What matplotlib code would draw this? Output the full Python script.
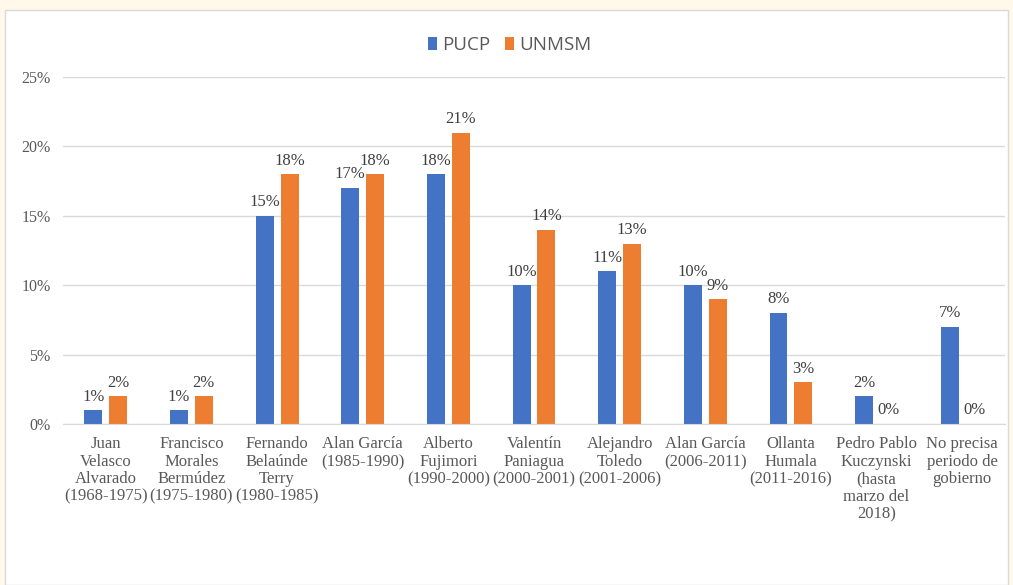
import matplotlib.pyplot as plt
import numpy as np
from matplotlib.patches import Rectangle

categories = [
    'Juan\nVelasco\nAlvarado\n(1968-1975)',
    'Francisco\nMorales\nBermúdez\n(1975-1980)',
    'Fernando\nBelaúnde\nTerry\n(1980-1985)',
    'Alan García\n(1985-1990)',
    'Alberto\nFujimori\n(1990-2000)',
    'Valentín\nPaniagua\n(2000-2001)',
    'Alejandro\nToledo\n(2001-2006)',
    'Alan García\n(2006-2011)',
    'Ollanta\nHumala\n(2011-2016)',
    'Pedro Pablo\nKuczynski\n(hasta\nmarzo del\n2018)',
    'No precisa\nperiodo de\ngobierno',
]
pucp = [1, 1, 15, 17, 18, 10, 11, 10, 8, 2, 7]
unmsm = [2, 2, 18, 18, 21, 14, 13, 9, 3, 0, 0]

blue = '#4472C4'
orange = '#ED7D31'
txt = '#595959'
serif = 'Liberation Serif'

fig = plt.figure(figsize=(10.13, 5.85), dpi=100)
fig.patch.set_facecolor('#FFF8EB')
# white chart area
fig.patches.append(Rectangle((5 / 1013, 0), 1003 / 1013, 575 / 585, transform=fig.transFigure,
                             facecolor='white', edgecolor='#D9D9D9', lw=1, zorder=-10))

ax = fig.add_axes([63 / 1013, 1 - 424 / 585, 942 / 1013, 347 / 585])
ax.set_facecolor('none')

x = np.arange(len(categories))
w = 0.21
off = 0.145
b1 = ax.bar(x - off, pucp, w, color=blue, label='PUCP', zorder=2)
b2 = ax.bar(x + off, unmsm, w, color=orange, label='UNMSM', zorder=2)

for bars, vals in ((b1, pucp), (b2, unmsm)):
    for r, v in zip(bars, vals):
        ax.annotate(f'{v}%', (r.get_x() + r.get_width() / 2, v), xytext=(0, 4),
                    textcoords='offset points', ha='center', va='bottom',
                    fontsize=12, color='#404040', family=serif)

ax.set_ylim(0, 25)
ax.set_xlim(-0.5, len(categories) - 0.5)
ax.set_yticks(range(0, 26, 5))
ax.set_yticklabels([f'{t}%' for t in range(0, 26, 5)], family=serif, fontsize=11.5, color=txt)
ax.set_xticks(x)
ax.set_xticklabels(categories, family=serif, fontsize=12, color=txt, linespacing=1.12, va='top')
ax.tick_params(length=0)
ax.tick_params(axis='y', pad=9)
ax.tick_params(axis='x', pad=9)
ax.grid(axis='y', color='#D9D9D9', lw=1, zorder=0)
for s in ('top', 'right', 'left'):
    ax.spines[s].set_visible(False)
ax.spines['bottom'].set_color('#D9D9D9')

ax.legend(loc='center', bbox_to_anchor=(0.503, 1 - 45 / 585), bbox_transform=fig.transFigure,
          ncol=2, frameon=False, prop={'family': 'Open Sans', 'size': 13.5},
          handlelength=0.48, handleheight=0.64, handletextpad=0.3, columnspacing=0.75,
          labelcolor=txt)

fig.savefig('out.png', dpi=100)
